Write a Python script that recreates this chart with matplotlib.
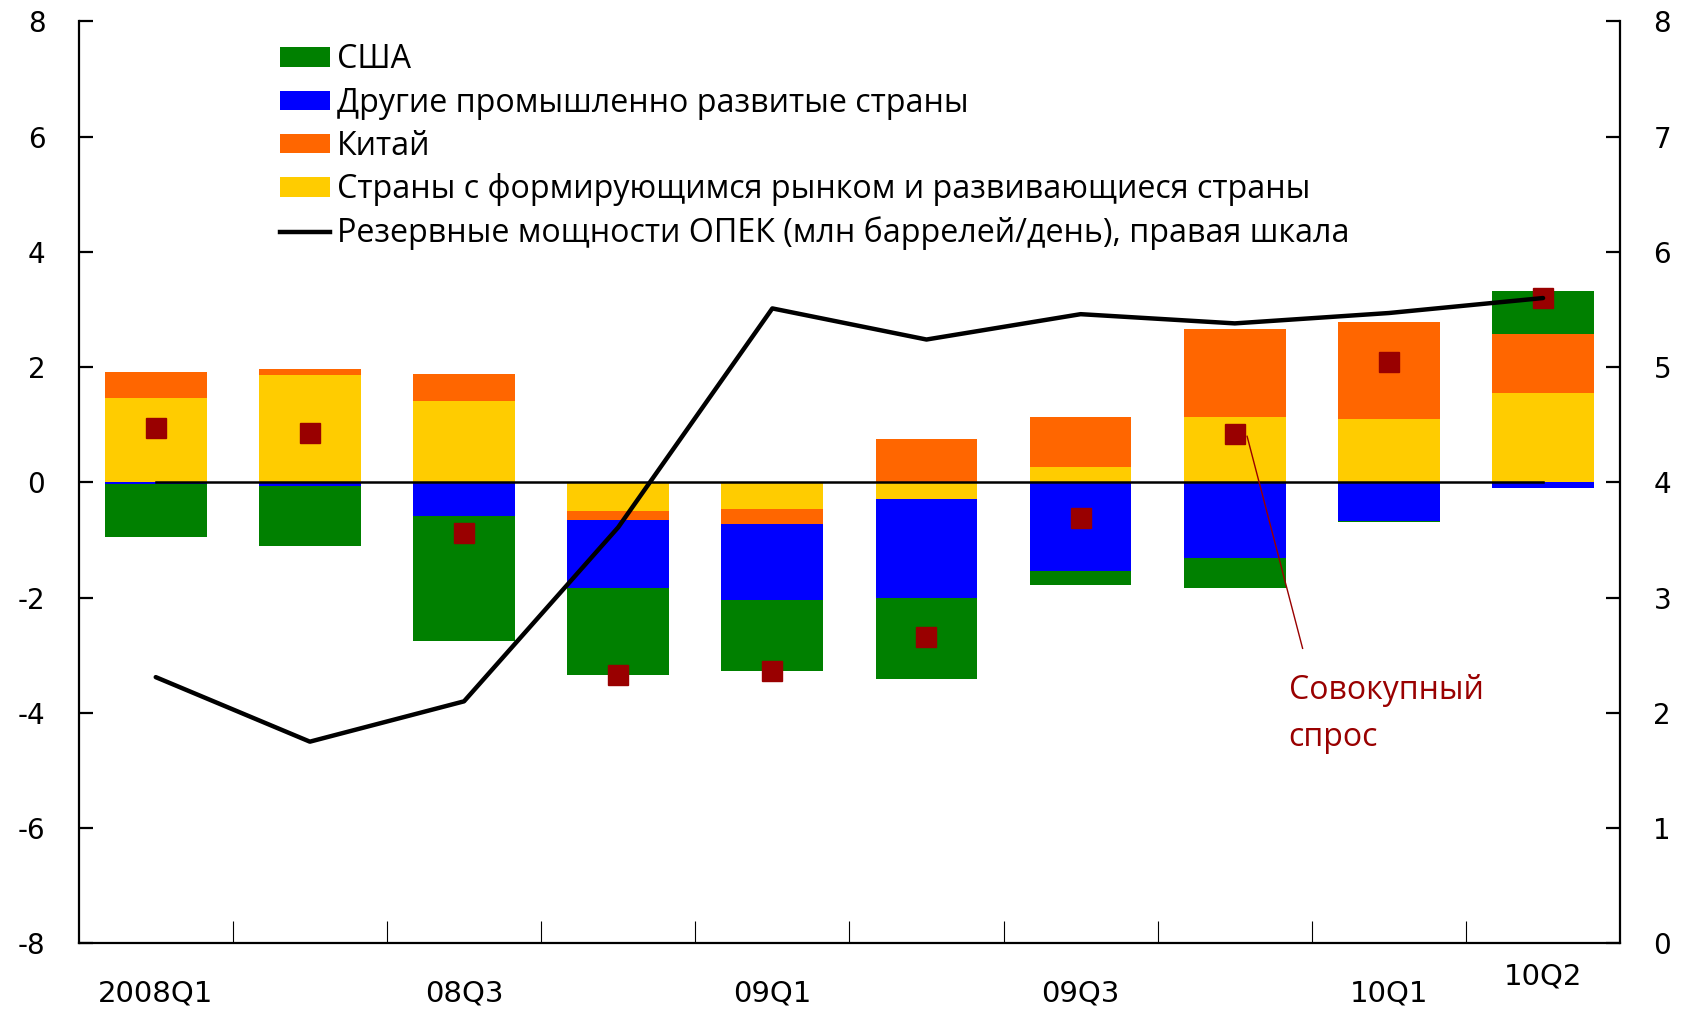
import matplotlib
matplotlib.use("Agg")
import matplotlib.pyplot as plt
import numpy as np
from matplotlib.patches import Patch
from matplotlib.lines import Line2D

# ---- data ----
quarters = ["2008Q1", "08Q2", "08Q3", "08Q4", "09Q1", "09Q2", "09Q3", "09Q4", "10Q1", "10Q2"]
shown_labels = {0: "2008Q1", 2: "08Q3", 4: "09Q1", 6: "09Q3", 8: "10Q1", 9: "10Q2"}
usa = [-0.93, -1.04, -2.17, -1.52, -1.23, -1.42, -0.25, -0.52, -0.01, 0.75]
other_adv = [-0.02, -0.06, -0.58, -1.18, -1.31, -1.72, -1.53, -1.31, -0.67, -0.10]
china = [0.45, 0.09, 0.47, -0.15, -0.26, 0.75, 0.88, 1.53, 1.69, 1.03]
emerging = [1.46, 1.87, 1.42, -0.50, -0.47, -0.28, 0.26, 1.14, 1.10, 1.55]
total_demand = [0.95, 0.86, -0.88, -3.35, -3.27, -2.69, -0.62, 0.84, 2.09, 3.20]
opec_spare = [2.31, 1.75, 2.10, 3.61, 5.51, 5.24, 5.46, 5.38, 5.47, 5.60]

legend_labels = ["США", "Другие промышленно развитые страны", "Китай",
                 "Страны с формирующимся рынком и развивающиеся страны",
                 "Резервные мощности ОПЕК (млн баррелей/день), правая шкала"]
annot_text = "Совокупный\nспрос"

c_usa, c_oth, c_chn, c_em = "#008000", "#0000FF", "#FF6600", "#FFCC00"
c_dem = "#990000"

plt.rcParams['font.family'] = ['Open Sans', 'DejaVu Sans']
plt.rcParams['axes.unicode_minus'] = False

fig = plt.figure(figsize=(16.88, 10.09), dpi=100)
ax = fig.add_axes([0.0466, 0.0651, 0.9132, 0.9136])
ax2 = ax.twinx()

x = np.arange(len(quarters))
w = 0.66
pos_base = np.zeros(len(x))
neg_base = np.zeros(len(x))
for vals, col in [(emerging, c_em), (china, c_chn), (other_adv, c_oth), (usa, c_usa)]:
    v = np.array(vals)
    base = np.where(v >= 0, pos_base, neg_base)
    ax.bar(x, v, w, bottom=base, color=col, edgecolor='none', zorder=2)
    pos_base = pos_base + np.where(v >= 0, v, 0)
    neg_base = neg_base + np.where(v < 0, v, 0)

ax.plot(x, np.zeros(len(x)), color='black', lw=1.8, zorder=3)
ax.plot(x, total_demand, ls='none', marker='s', ms=15, color=c_dem,
        markeredgecolor=c_dem, zorder=4)

ax2.plot(x, opec_spare, color='black', lw=3.2, solid_capstyle='round', zorder=5)

ax.set_xlim(-0.5, len(x) - 0.5)
ax.set_ylim(-8, 8)
ax2.set_ylim(0, 8)
ax.set_yticks(np.arange(-8, 9, 2))
ax2.set_yticks(np.arange(0, 9, 1))

for a in (ax, ax2):
    a.spines['top'].set_visible(False)
    for s in a.spines.values():
        s.set_linewidth(1.6)
ax.spines['right'].set_visible(False)
ax2.spines['left'].set_visible(False)
ax2.spines['bottom'].set_visible(False)

ax.tick_params(axis='y', direction='in', length=10, width=1.6, labelsize=20, pad=24)
ax2.tick_params(axis='y', direction='in', length=10, width=1.6, labelsize=20, pad=24)
for lab in ax.get_yticklabels() + ax2.get_yticklabels():
    lab.set_fontfamily(['DejaVu Sans'])

ax.set_xticks(np.arange(0.5, len(x) - 0.5, 1))
ax.set_xticklabels([])
ax.tick_params(axis='x', direction='in', length=16, width=0.8)

trans = ax.get_xaxis_transform()
for i, lab in shown_labels.items():
    yy = -0.054 if i != 9 else -0.036
    ax.text(i, yy, lab, transform=trans, ha='center', va='center', fontsize=21,
            family=['Liberation Sans Narrow', 'DejaVu Sans'])

# annotation
ax.plot([7.08, 7.44], [0.80, -2.88], color=c_dem, lw=1.0, zorder=4)
ax.text(7.35, -3.33, annot_text, color=c_dem, fontsize=23, ha='left', va='top',
        linespacing=1.55)

handles = [Patch(facecolor=c_usa), Patch(facecolor=c_oth), Patch(facecolor=c_chn),
           Patch(facecolor=c_em), Line2D([0], [0], color='black', lw=3.2)]
fig.legend(handles, legend_labels, loc='upper left', bbox_to_anchor=(0.166, 0.957),
           frameon=False, fontsize=23.2, handlelength=1.55, handleheight=0.55,
           handletextpad=0.2, labelspacing=0.32, borderpad=0, borderaxespad=0)

fig.savefig("out.png", dpi=100)
